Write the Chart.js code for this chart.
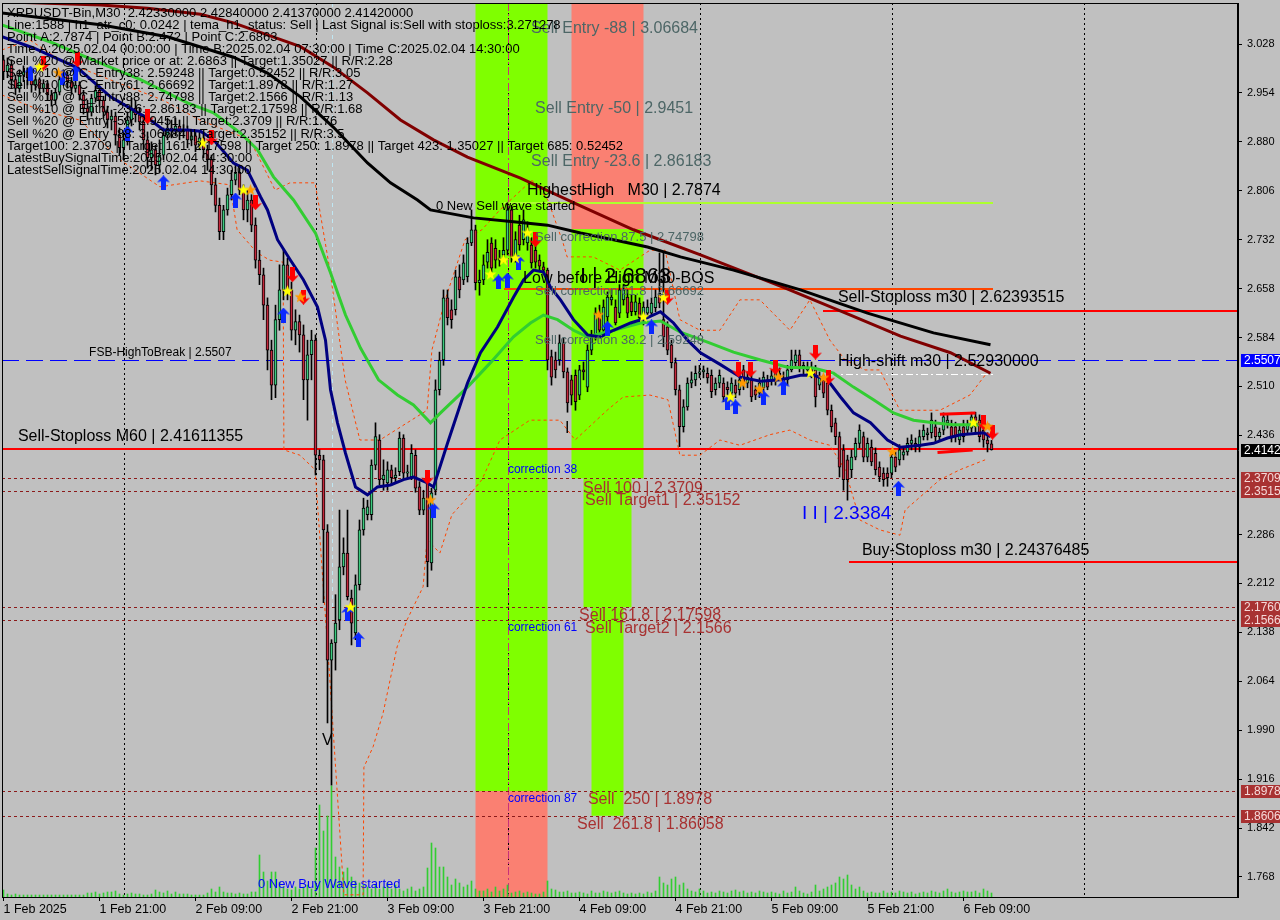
<!DOCTYPE html>
<html>
<head>
<meta charset="utf-8">
<title>XRPUSDT-Bin,M30</title>
<script src="https://cdn.jsdelivr.net/npm/chart.js@4.4.1/dist/chart.umd.min.js"></script>
<style>
  html, body { margin: 0; padding: 0; background: #c0c0c0; }
  #chart { display: block; }
</style>
</head>
<body>
<canvas id="chart" width="1280" height="920"></canvas>
<script>
// --- axis labels ---
const timeTickBars = [0, 24, 48, 72, 96, 120, 144, 168, 192, 216, 240];
const timeLabels = ['1 Feb 2025', '1 Feb 21:00', '2 Feb 09:00', '2 Feb 21:00', '3 Feb 09:00', '3 Feb 21:00',
  '4 Feb 09:00', '4 Feb 21:00', '5 Feb 09:00', '5 Feb 21:00', '6 Feb 09:00'];
const priceTicks = [3.028, 2.954, 2.880, 2.806, 2.732, 2.658, 2.584, 2.510, 2.436, 2.286, 2.212, 2.138, 2.064, 1.990, 1.916, 1.842, 1.768];
const dayStartBars = [30, 78, 126, 174, 222, 270];

// --- candles, M30, bar 0 = 1 Feb 09:00 ---
const opens = [
  3.004,2.986,2.996,2.974,2.961,2.981,2.986,2.977,2.966,2.974, 2.961,2.968,2.951,2.943,2.955,2.974,2.981,2.971,2.961,2.966,
  2.951,2.931,2.925,2.946,2.958,2.943,2.925,2.913,2.919,2.890, 2.871,2.883,2.913,2.931,2.921,2.910,2.883,2.856,2.868,2.845,
  2.860,2.890,2.901,2.898,2.904,2.895,2.898,2.883,2.889,2.875, 2.886,2.868,2.853,2.815,2.784,2.744,2.777,2.800,2.822,2.834,
  2.807,2.777,2.792,2.754,2.701,2.679,2.633,2.565,2.512,2.611, 2.656,2.694,2.656,2.595,2.608,2.588,2.520,2.558,2.580,2.406,
  2.399,2.290,2.096,2.122,2.157,2.237,2.258,2.190,2.137,2.210, 2.293,2.316,2.316,2.391,2.429,2.369,2.364,2.384,2.372,2.381,
  2.432,2.379,2.373,2.406,2.358,2.323,2.369,2.243,2.353,2.505, 2.550,2.644,2.626,2.626,2.676,2.671,2.676,2.727,2.747,2.667,
  2.671,2.698,2.727,2.719,2.701,2.709,2.716,2.777,2.706,2.754, 2.732,2.727,2.724,2.716,2.701,2.691,2.686,2.555,2.550,2.550,
  2.576,2.532,2.520,2.527,2.497,2.535,2.509,2.565,2.585,2.621, 2.595,2.615,2.641,2.630,2.621,2.641,2.645,2.638,2.623,2.636,
  2.611,2.621,2.621,2.629,2.651,2.611,2.600,2.573,2.546,2.505, 2.449,2.479,2.515,2.520,2.530,2.532,2.530,2.527,2.505,2.515,
  2.515,2.509,2.500,2.512,2.505,2.535,2.515,2.520,2.505,2.500, 2.508,2.520,2.520,2.520,2.530,2.523,2.520,2.535,2.546,2.558,
  2.539,2.535,2.539,2.535,2.512,2.520,2.515,2.474,2.455,2.434, 2.414,2.399,2.384,2.403,2.424,2.434,2.403,2.418,2.409,2.388,
  2.379,2.379,2.379,2.403,2.399,2.406,2.411,2.424,2.424,2.418, 2.434,2.437,2.440,2.449,2.434,2.444,2.455,2.449,2.449,2.429,
  2.449,2.444,2.447,2.464,2.459,2.444,2.429,2.4233
];
const highs = [
  3.011,3.007,3.004,2.981,2.989,2.995,2.992,2.983,2.980,2.977, 2.974,2.971,2.958,2.961,2.983,2.989,2.986,2.977,2.974,2.971,
  2.958,2.943,2.952,2.965,2.965,2.949,2.934,2.928,2.925,2.901, 2.895,2.925,2.946,2.943,2.931,2.921,2.895,2.880,2.875,2.883,
  2.901,2.916,2.913,2.916,2.913,2.906,2.904,2.898,2.898,2.895, 2.892,2.875,2.860,2.825,2.795,2.784,2.810,2.837,2.845,2.845,
  2.815,2.807,2.800,2.765,2.716,2.689,2.644,2.580,2.633,2.694, 2.716,2.704,2.668,2.626,2.618,2.603,2.580,2.595,2.588,2.414,
  2.406,2.301,2.127,2.195,2.323,2.281,2.323,2.202,2.225,2.308, 2.341,2.338,2.399,2.455,2.437,2.399,2.396,2.391,2.387,2.441,
  2.437,2.391,2.422,2.414,2.366,2.353,2.376,2.356,2.520,2.562, 2.656,2.656,2.641,2.686,2.694,2.709,2.735,2.777,2.754,2.686,
  2.709,2.732,2.735,2.732,2.716,2.735,2.788,2.784,2.744,2.769, 2.777,2.759,2.735,2.732,2.709,2.698,2.689,2.565,2.562,2.588,
  2.583,2.538,2.527,2.535,2.542,2.547,2.573,2.595,2.629,2.633, 2.641,2.653,2.656,2.641,2.664,2.664,2.656,2.648,2.648,2.644,
  2.638,2.641,2.644,2.656,2.712,2.712,2.608,2.580,2.553,2.512, 2.490,2.523,2.532,2.541,2.542,2.541,2.538,2.535,2.523,2.535,
  2.523,2.517,2.523,2.520,2.532,2.542,2.532,2.527,2.511,2.523, 2.532,2.527,2.535,2.547,2.538,2.532,2.542,2.565,2.565,2.565,
  2.547,2.547,2.547,2.542,2.532,2.527,2.523,2.482,2.462,2.441, 2.422,2.406,2.414,2.432,2.452,2.441,2.432,2.429,2.417,2.396,
  2.387,2.387,2.411,2.411,2.422,2.417,2.432,2.437,2.432,2.444, 2.452,2.447,2.470,2.459,2.447,2.470,2.467,2.459,2.456,2.452,
  2.459,2.459,2.471,2.471,2.467,2.456,2.440,2.4284
];
const lows = [
  2.974,2.977,2.961,2.951,2.955,2.971,2.966,2.955,2.958,2.951, 2.955,2.943,2.934,2.937,2.951,2.965,2.961,2.952,2.955,2.943,
  2.922,2.913,2.919,2.940,2.934,2.916,2.901,2.898,2.875,2.860, 2.853,2.875,2.904,2.910,2.898,2.868,2.840,2.837,2.830,2.834,
  2.853,2.883,2.886,2.889,2.883,2.886,2.871,2.874,2.865,2.868, 2.856,2.837,2.800,2.774,2.732,2.732,2.769,2.792,2.815,2.800,
  2.762,2.759,2.744,2.689,2.664,2.611,2.535,2.490,2.493,2.595, 2.641,2.641,2.580,2.573,2.562,2.490,2.459,2.520,2.376,2.384,
  2.183,2.001,1.907,2.081,2.142,2.225,2.187,2.119,2.127,2.202, 2.285,2.308,2.308,2.384,2.361,2.353,2.353,2.361,2.366,2.375,
  2.369,2.372,2.369,2.350,2.316,2.316,2.207,2.232,2.346,2.497, 2.542,2.603,2.598,2.618,2.644,2.664,2.668,2.723,2.656,2.648,
  2.664,2.689,2.683,2.689,2.692,2.698,2.709,2.698,2.698,2.716, 2.724,2.716,2.689,2.689,2.686,2.680,2.535,2.512,2.523,2.542,
  2.523,2.471,2.482,2.474,2.490,2.520,2.502,2.558,2.580,2.588, 2.588,2.608,2.633,2.603,2.614,2.633,2.614,2.617,2.618,2.608,
  2.603,2.618,2.617,2.623,2.629,2.570,2.558,2.538,2.497,2.419, 2.441,2.474,2.508,2.511,2.523,2.523,2.515,2.493,2.497,2.508,
  2.487,2.497,2.493,2.493,2.497,2.505,2.508,2.487,2.490,2.493, 2.502,2.505,2.512,2.512,2.520,2.508,2.512,2.532,2.541,2.532,
  2.527,2.529,2.523,2.479,2.505,2.493,2.467,2.441,2.422,2.373, 2.353,2.338,2.372,2.399,2.417,2.396,2.396,2.390,2.376,2.366,
  2.359,2.359,2.372,2.381,2.391,2.399,2.406,2.414,2.411,2.411, 2.429,2.429,2.432,2.426,2.429,2.437,2.447,2.426,2.426,2.422,
  2.426,2.437,2.441,2.441,2.426,2.418,2.411,2.4137
];
const closes = [
  2.986,2.996,2.974,2.961,2.981,2.986,2.977,2.966,2.974,2.961, 2.968,2.951,2.943,2.955,2.974,2.981,2.971,2.961,2.966,2.951,
  2.931,2.925,2.946,2.958,2.943,2.925,2.913,2.919,2.890,2.871, 2.883,2.913,2.931,2.921,2.910,2.883,2.856,2.868,2.845,2.860,
  2.890,2.901,2.898,2.904,2.895,2.898,2.883,2.889,2.875,2.886, 2.868,2.853,2.815,2.784,2.744,2.777,2.800,2.822,2.834,2.807,
  2.777,2.792,2.754,2.701,2.679,2.633,2.565,2.512,2.611,2.656, 2.694,2.656,2.595,2.608,2.588,2.520,2.558,2.580,2.406,2.399,
  2.293,2.096,2.122,2.152,2.237,2.258,2.192,2.152,2.210,2.293, 2.326,2.328,2.391,2.434,2.369,2.376,2.384,2.372,2.376,2.432,
  2.379,2.381,2.409,2.356,2.323,2.341,2.245,2.349,2.505,2.550, 2.644,2.614,2.611,2.676,2.656,2.697,2.727,2.747,2.667,2.671,
  2.694,2.713,2.689,2.701,2.704,2.716,2.777,2.706,2.732,2.724, 2.762,2.747,2.697,2.698,2.692,2.686,2.550,2.524,2.535,2.576,
  2.532,2.485,2.497,2.487,2.535,2.532,2.565,2.585,2.621,2.595, 2.630,2.645,2.645,2.606,2.656,2.656,2.621,2.623,2.638,2.614,
  2.630,2.630,2.636,2.645,2.636,2.585,2.565,2.546,2.505,2.449, 2.479,2.515,2.520,2.530,2.532,2.535,2.523,2.502,2.515,2.527,
  2.494,2.505,2.515,2.500,2.520,2.512,2.524,2.494,2.497,2.515, 2.524,2.509,2.526,2.539,2.527,2.515,2.535,2.550,2.558,2.539,
  2.542,2.539,2.530,2.494,2.524,2.500,2.474,2.449,2.434,2.388, 2.369,2.369,2.403,2.424,2.444,2.403,2.424,2.396,2.384,2.373,
  2.369,2.372,2.403,2.388,2.414,2.411,2.424,2.429,2.418,2.434, 2.444,2.440,2.459,2.434,2.441,2.464,2.459,2.434,2.434,2.444,
  2.434,2.452,2.464,2.449,2.434,2.429,2.423,2.4142
];
const volumes = [
  7,3,2,3,2,2,2,2,2,2, 2,2,2,2,2,2,2,2,2,2, 2,4,4,5,3,4,5,5,6,3, 2,3,4,3,3,2,2,3,7,5,
  4,6,3,5,3,3,3,2,2,2, 2,4,8,5,10,5,4,4,3,4, 3,3,5,5,42,25,16,25,25,15, 10,8,7,10,8,10,12,8,49,92,
  66,81,111,40,30,25,29,20,16,14, 12,10,8,12,8,10,14,8,12,8, 6,8,10,6,8,10,29,54,49,30, 30,20,12,18,14,10,12,16,8,6,
  6,8,5,10,6,8,12,4,5,6, 4,5,4,3,3,5,16,8,7,5, 5,6,4,4,5,4,3,6,4,4, 6,5,4,5,6,4,3,4,3,4,
  3,5,4,6,20,14,12,18,20,12, 14,8,6,5,8,6,4,5,4,6, 5,4,6,7,5,6,4,5,4,6, 5,4,5,4,3,6,4,5,10,6,
  4,3,5,12,6,8,10,12,14,20, 18,22,12,8,10,6,4,5,4,4, 6,4,5,4,6,5,4,5,3,4, 5,4,6,5,4,6,8,5,4,5,
  6,5,5,6,4,8,6,4
];

// --- indicator lines, [bar, price] ---
const maNavy = [[-0.4,3.039],[7.5,3.022],[18.5,2.992],[26.75,2.948],[32.5,2.928],[36.75,2.913],[40,2.898],[46,2.898],[49.25,2.896],
  [52.5,2.883],[57.5,2.848],[61,2.837],[64.25,2.797],[66,2.777],[68.5,2.732],[71.75,2.701],[75,2.671],[78.5,2.630],[80.5,2.580],
  [81.75,2.505],[83.5,2.455],[85.5,2.409],[88,2.358],[91,2.346],[93.5,2.358],[96.75,2.361],[100,2.369],[102.5,2.373],[106,2.364],
  [107.5,2.358],[111,2.424],[116,2.515],[119.25,2.561],[123.5,2.600],[127.5,2.645],[130,2.671],[132.5,2.686],[135,2.683],
  [136.75,2.660],[139.25,2.641],[142.5,2.611],[146,2.588],[149.25,2.585],[152.5,2.595],[156.75,2.606],[161,2.614],[164.25,2.623],
  [167.5,2.606],[171,2.580],[174.25,2.561],[179.25,2.543],[184.25,2.524],[189.25,2.518],[194.25,2.520],[199.25,2.527],[202.5,2.527],
  [206,2.520],[209.25,2.494],[212.5,2.470],[216.75,2.455],[221,2.429],[224.25,2.418],[229.25,2.421],[232.5,2.424],[236,2.432],
  [239.25,2.437],[245,2.440],[246.75,2.434]];
const maGreen = [[-0.4,3.057],[11.75,3.031],[24.25,2.999],[34.25,2.974],[46,2.939],[52.5,2.924],[59.25,2.893],[63.5,2.868],
  [67.5,2.827],[72.5,2.792],[78,2.742],[81.75,2.682],[85.5,2.618],[89.25,2.568],[93.75,2.520],[98.5,2.497],[102.5,2.482],
  [106.75,2.455],[109.25,2.470],[116,2.509],[121.75,2.546],[127.5,2.585],[131.75,2.606],[135,2.618],[138.5,2.611],[142.5,2.595],
  [146,2.585],[152.5,2.595],[159.25,2.606],[164.25,2.609],[169.25,2.592],[176,2.577],[182.5,2.562],[189.25,2.550],[196,2.539],
  [202.5,2.538],[207.5,2.530],[212.5,2.509],[217.5,2.490],[222.5,2.470],[227.5,2.459],[232.5,2.455],[237.5,2.452],[245,2.452],
  [246.75,2.450]];
const maBlack = [[-0.4,3.075],[24.25,3.057],[41,3.039],[57.5,3.008],[66,2.984],[74.25,2.948],[82.5,2.902],[91,2.848],[96.75,2.818],
  [103.5,2.792],[106.75,2.777],[117.5,2.765],[127.5,2.759],[136,2.754],[144.25,2.742],[152.5,2.732],[161,2.721],[169.25,2.706],
  [182.5,2.686],[199.25,2.656],[216,2.621],[232.5,2.591],[246.75,2.573]];
const maMaroon = [[-0.4,3.092],[24.25,3.087],[36,3.082],[49.25,3.073],[57.5,3.060],[74.25,3.024],[82.5,2.993],[91,2.954],
  [99.25,2.913],[107.5,2.883],[116,2.857],[129.25,2.825],[144.25,2.783],[157.5,2.747],[174.25,2.709],[195,2.660],[211.75,2.618],
  [224.25,2.586],[236.75,2.561],[246.75,2.530]];
const bandUpper = [[-0.4,3.019],[6.6,3.034],[14.1,3.004],[26.6,2.974],[39.9,2.943],[49.1,2.913],[61.6,2.883],[67.9,2.807],
  [71.6,2.818],[77.9,2.818],[81.6,2.686],[85.4,2.520],[89.1,2.429],[94.1,2.429],[105.9,2.474],[107.1,2.565],[110.4,2.641],
  [115.4,2.732],[119.6,2.747],[124.1,2.777],[132.1,2.822],[136.1,2.792],[139.9,2.727],[140.9,2.706],[147.4,2.706],[154.1,2.686],
  [161.6,2.716],[165.4,2.716],[169.1,2.611],[174.1,2.595],[179.1,2.595],[184.1,2.641],[189.1,2.641],[196.6,2.595],[201.6,2.641],
  [206.6,2.580],[210.4,2.550],[215.4,2.535],[219.1,2.535],[224.1,2.474],[234.1,2.474],[241.6,2.497],[245.4,2.527]];
const bandLower = [[-0.4,2.951],[9.1,2.928],[19.1,2.913],[29.1,2.853],[39.1,2.812],[49.1,2.821],[56.6,2.815],[58.4,2.747],
  [63.4,2.712],[66.6,2.701],[69.9,2.698],[70.1,2.414],[74.1,2.406],[77.9,2.384],[81.6,2.066],[85.1,1.741],[89.9,1.741],
  [90.1,1.934],[92.4,1.965],[94.9,2.016],[98.4,2.116],[100.9,2.157],[104.9,2.207],[105.9,2.278],[109.1,2.258],[112.1,2.316],
  [115.4,2.338],[119.6,2.369],[124.1,2.429],[131.6,2.459],[139.1,2.459],[142.9,2.429],[150.9,2.474],[154.9,2.494],[161.6,2.497],
  [166.1,2.490],[169.1,2.406],[174.1,2.406],[179.1,2.429],[184.1,2.421],[191.6,2.437],[196.6,2.444],[201.6,2.429],[206.6,2.421],
  [210.4,2.384],[214.1,2.308],[219.1,2.293],[224.1,2.285],[225.4,2.323],[234.1,2.369],[239.1,2.384],[245.4,2.399]];

// --- signal marks, [bar, price] ---
const buyArrows = [[6.75,2.984],[14.75,2.978],[18,2.984],[31,2.893],[40,2.818],[58,2.792],[70,2.618],[86,2.167],[88.75,2.127],
  [107.5,2.323],[123.75,2.668],[126,2.671],[128.75,2.698],[151,2.598],[162,2.600],[181,2.485],[183,2.479],[190,2.493],[195,2.509],
  [223.75,2.356]];
const sellArrows = [[10,2.999],[18.5,3.004],[36,2.918],[52,2.886],[63,2.788],[72.25,2.679],[75,2.645],[106,2.373],[133,2.732],
  [166,2.645],[183.75,2.535],[186.75,2.535],[193,2.539],[203,2.562],[206.25,2.524],[245,2.455],[247.25,2.441]];
const yellowStars = [[9,2.993],[49.75,2.878],[60,2.807],[71,2.654],[86.75,2.176],[121.75,2.679],[125,2.701],[128,2.704],
  [131,2.742],[160,2.615],[165,2.644],[181.75,2.494],[201.75,2.530],[242.5,2.455]];
const orangeStars = [[13.75,2.984],[61.75,2.807],[74.25,2.645],[106.75,2.338],[148.75,2.618],[184.75,2.515],[189,2.506],
  [193.75,2.524],[205,2.523],[222.25,2.411],[246,2.449]];

// --- levels ---
const sellStopM60 = 2.41611355;
const fsbHighToBreak = 2.5507;
const sellStopM30 = 2.62393515;
const buyStopM30 = 2.24376485;
const highestHigh = 2.7874;
const bosLevel = 2.6575;
const highShift = 2.5293;
const targetLevels = [2.3709, 2.35152, 2.17598, 2.1566, 1.8978, 1.86058];
const lastClose = 2.4142;
const rangeHigh = [[234.1, 2.468], [243, 2.470]];
const rangeLow = [[233.5, 2.410], [242.3, 2.414]];

const X_MIN = -0.375, X_MAX = 308.625;
const Y_MIN = 1.73773, Y_MAX = 3.09002;
const FONT = '"Liberation Sans", Arial, sans-serif';
const LIME = '#7FFF00', SALMON = '#FA8072', SLATE = '#4D6666', BROWN = '#A83232';

const zones = [
  { from: 118, to: 136, top: 3.2, bottom: 1.8978, color: LIME },
  { from: 118, to: 136, top: 1.8978, bottom: 1.6, color: SALMON },
  { from: 142, to: 160, top: 3.2, bottom: 2.74798, color: SALMON },
  { from: 142, to: 160, top: 2.74798, bottom: 2.3709, color: LIME },
  { from: 145, to: 157, top: 2.3709, bottom: 2.17598, color: LIME },
  { from: 147, to: 155, top: 2.17598, bottom: 1.86058, color: LIME }
];

// horizontal levels: price, from bar, to bar, colour, width, dash
const levels = [
  ...targetLevels.map(p => [p, X_MIN, X_MAX, '#8B1A1A', 1, [3, 3]]),
  [fsbHighToBreak, X_MIN, X_MAX, '#0000FF', 1, [17, 7]],
  [highShift, 206.75, 247.25, '#FFFFFF', 1, [7, 3, 2, 3]],
  [sellStopM60, X_MIN, X_MAX, '#FF0000', 2, []],
  [sellStopM30, 205, X_MAX, '#FF0000', 2, []],
  [buyStopM30, 211.25, X_MAX, '#FF0000', 2, []],
  [highestHigh, 125, 247.25, '#ADFF2F', 2, []],
  [bosLevel, 125, 247.25, '#FF4500', 2, []]
];

const notes = [
  ['Sell-Stoploss M60 | 2.41611355', 3.6, 2.434, 16, '#000'],
  ['FSB-HighToBreak | 2.5507', 21.4, 2.561, 12, '#000'],
  ['Sell Entry -88 | 3.06684', 131.9, 3.052, 16, SLATE],
  ['Sell Entry -50 | 2.9451', 132.9, 2.931, 16, SLATE],
  ['Sell Entry -23.6 | 2.86183', 131.9, 2.850, 16, SLATE],
  ['HighestHigh   M30 | 2.7874', 130.9, 2.806, 16, '#000'],
  ['0 New Sell wave started', 108.1, 2.783, 13, '#000'],
  ['Sell correction 87.5 | 2.74798', 132.9, 2.736, 13, SLATE],
  ['Sell correction 61.8 | 2.66692', 132.9, 2.653, 13, SLATE],
  ['Sell correction 38.2 | 2.59248', 132.9, 2.580, 13, SLATE],
  ['Low before High M30-BOS', 129.9, 2.673, 16, '#000'],
  ['I | 2.6863', 144.1, 2.676, 22, '#000'],
  ['Sell-Stoploss m30 | 2.62393515', 208.6, 2.644, 16, '#000'],
  ['High-shift m30 | 2.52930000', 208.6, 2.547, 16, '#000'],
  ['correction 38', 126.1, 2.384, 12, '#0000FF'],
  ['Sell 100 | 2.3709', 144.9, 2.356, 16, BROWN],
  ['Sell Target1 | 2.35152', 145.4, 2.337, 16, BROWN],
  ['I I | 2.3384', 199.6, 2.317, 19, '#0000FF'],
  ['Buy-Stoploss m30 | 2.24376485', 214.6, 2.261, 16, '#000'],
  ['Sell 161.8 | 2.17598', 143.9, 2.163, 16, BROWN],
  ['correction 61', 126.1, 2.145, 12, '#0000FF'],
  ['Sell Target2 | 2.1566', 145.4, 2.143, 16, BROWN],
  ['correction 87', 126.1, 1.886, 12, '#0000FF'],
  ['Sell  250 | 1.8978', 146.1, 1.885, 16, BROWN],
  ['Sell  261.8 | 1.86058', 143.4, 1.847, 16, BROWN],
  ['0 New Buy Wave started', 63.6, 1.756, 13, '#0000FF'],
  ['V', 79.6, 1.975, 16, '#000'],
  ['I', 140.4, 2.447, 16, '#000']
];

const infoLines = [
  'XRPUSDT-Bin,M30  2.42330000 2.42840000 2.41370000 2.41420000',
  'Line:1588 | h1_atr_c0: 0.0242 | tema_h1_status: Sell | Last Signal is:Sell with stoploss:3.271278',
  'Point A:2.7874 | Point B:2.472 | Point C:2.6863',
  'Time A:2025.02.04 00:00:00 | Time B:2025.02.04 07:30:00 | Time C:2025.02.04 14:30:00',
  'Sell %20 @ Market price or at: 2.6863 || Target:1.35027 || R/R:2.28',
  'Sell %10 @ C_Entry38: 2.59248 || Target:0.52452 || R/R:3.05',
  'Sell %10 @ C_Entry61: 2.66692 || Target:1.8978 || R/R:1.27',
  'Sell %10 @ C_Entry88: 2.74798 || Target:2.1566 || R/R:1.13',
  'Sell %10 @ Entry -23.6: 2.86183 || Target:2.17598 || R/R:1.68',
  'Sell %20 @ Entry -50: 2.9451 || Target:2.3709 || R/R:1.76',
  'Sell %20 @ Entry -88: 3.06684 || Target:2.35152 || R/R:3.5',
  'Target100: 2.3709 || Target 161: 2.17598 || Target 250: 1.8978 || Target 423: 1.35027 || Target 685: 0.52452',
  'LatestBuySignalTime:2025.02.04 04:30:00',
  'LatestSellSignalTime:2025.02.04 14:30:00'
];

const axisTags = [
  [fsbHighToBreak, '#0000FF', '#FFFFFF'],
  [lastClose, '#000000', '#FFFFFF'],
  ...targetLevels.map(p => [p, BROWN, '#F6D8D8'])
];

// --- marker images ---
function makeArrow(color, up) {
  const c = document.createElement('canvas');
  c.width = 13; c.height = 15;
  const g = c.getContext('2d');
  if (!up) { g.translate(0, 15); g.scale(1, -1); }
  g.fillStyle = color;
  g.beginPath();
  g.moveTo(6.5, 0); g.lineTo(13, 7); g.lineTo(9, 6); g.lineTo(9, 15); g.lineTo(4, 15); g.lineTo(4, 6); g.lineTo(0, 7);
  g.closePath();
  g.fill();
  return c;
}
function makeStar(color) {
  const c = document.createElement('canvas');
  c.width = 13; c.height = 13;
  const g = c.getContext('2d');
  g.fillStyle = color;
  g.beginPath();
  for (let k = 0; k < 10; k++) {
    const r = k % 2 ? 2.6 : 6.3;
    const a = -Math.PI / 2 + k * Math.PI / 5;
    g.lineTo(6.5 + r * Math.cos(a), 6.5 + r * Math.sin(a));
  }
  g.closePath();
  g.fill();
  return c;
}

const pts = arr => arr.map(([x, y]) => ({ x, y }));

function lineSet(data, color, width, order, dash) {
  return {
    type: 'line', data, borderColor: color, borderWidth: width, borderDash: dash || [],
    pointRadius: 0, tension: 0, fill: false, order
  };
}
function markSet(data, img) {
  return {
    type: 'line', data: pts(data), showLine: false, pointStyle: img, pointRadius: 6, order: 1
  };
}

const bars = opens.map((o, i) => i);
const datasets = [
  {
    type: 'bar', yAxisID: 'yv', data: bars.map(i => ({ x: i, y: volumes[i] })),
    backgroundColor: '#32CD32', barThickness: 1, grouped: false, order: 30
  },
  lineSet(pts(bandUpper), '#FF4500', 1, 18, [3, 3]),
  lineSet(pts(bandLower), '#FF4500', 1, 18, [3, 3]),
  {
    type: 'bar', data: bars.map(i => ({ x: i, y: [lows[i], highs[i]] })),
    backgroundColor: '#000000', barThickness: 1, grouped: false, order: 12
  },
  {
    type: 'bar', data: bars.map(i => ({ x: i, y: [opens[i], closes[i]] })),
    backgroundColor: bars.map(i => closes[i] >= opens[i] ? '#3CCB7F' : '#C4283C'),
    borderColor: '#000000', borderWidth: 1, borderSkipped: false, minBarLength: 1,
    barThickness: 3, grouped: false, order: 11
  },
  lineSet(pts(maMaroon), '#800000', 3, 6),
  lineSet(pts(maBlack), '#000000', 3, 5),
  lineSet(pts(maGreen), '#32CD32', 3, 4),
  lineSet(pts(maNavy), '#000080', 3, 3),
  lineSet(pts(rangeHigh), '#FF0000', 3, 2),
  lineSet(pts(rangeLow), '#FF0000', 3, 2),
  markSet(yellowStars, makeStar('#FFFF00')),
  markSet(orangeStars, makeStar('#FF9A00')),
  markSet(buyArrows, makeArrow('#0A28FF', true)),
  markSet(sellArrows, makeArrow('#FF0000', false))
];

// --- drawing helpers ---
const backdrop = {
  id: 'backdrop',
  beforeDraw(chart) {
    const g = chart.ctx;
    g.save();
    g.fillStyle = '#C0C0C0';
    g.fillRect(0, 0, chart.width, chart.height);
    g.restore();
  },
  beforeDatasetsDraw(chart) {
    const g = chart.ctx, a = chart.chartArea, x = chart.scales.x, y = chart.scales.y;
    g.save();
    g.beginPath(); g.rect(a.left, a.top, a.right - a.left, a.bottom - a.top); g.clip();
    zones.forEach(z => {
      const x0 = x.getPixelForValue(z.from), x1 = x.getPixelForValue(z.to);
      const y0 = y.getPixelForValue(z.top), y1 = y.getPixelForValue(z.bottom);
      g.fillStyle = z.color;
      g.fillRect(x0, y0, x1 - x0, y1 - y0);
    });
    g.strokeStyle = '#000'; g.lineWidth = 1; g.setLineDash([2, 3]);
    dayStartBars.forEach(b => {
      const px = Math.round(x.getPixelForValue(b)) + 0.5;
      g.beginPath(); g.moveTo(px, a.top); g.lineTo(px, a.bottom); g.stroke();
    });
    g.strokeStyle = '#C8307A'; g.setLineDash([8, 3, 2, 3]);
    let px = Math.round(x.getPixelForValue(126)) + 0.5;
    g.beginPath(); g.moveTo(px, a.top); g.lineTo(px, a.bottom); g.stroke();
    g.strokeStyle = '#BFE6F2'; g.setLineDash([4, 4]);
    px = Math.round(x.getPixelForValue(82)) + 0.5;
    g.beginPath(); g.moveTo(px, a.top); g.lineTo(px, y.getPixelForValue(2.172)); g.stroke();
    levels.forEach(([p, b0, b1, color, width, dash]) => {
      const py = Math.round(y.getPixelForValue(p)) + (width % 2 ? 0.5 : 0);
      g.strokeStyle = color; g.lineWidth = width; g.setLineDash(dash);
      g.beginPath();
      g.moveTo(Math.round(x.getPixelForValue(b0)), py);
      g.lineTo(Math.round(x.getPixelForValue(b1)), py);
      g.stroke();
    });
    g.restore();
  },
  afterDatasetsDraw(chart) {
    const g = chart.ctx, a = chart.chartArea, x = chart.scales.x, y = chart.scales.y;
    g.save();
    g.beginPath(); g.rect(a.left, a.top, a.right - a.left, a.bottom - a.top); g.clip();
    g.textBaseline = 'middle'; g.textAlign = 'left';
    notes.forEach(([t, b, p, size, color]) => {
      g.font = size + 'px ' + FONT;
      g.fillStyle = color;
      g.fillText(t, x.getPixelForValue(b), y.getPixelForValue(p));
    });
    g.font = '13px ' + FONT;
    g.fillStyle = '#000';
    infoLines.forEach((t, k) => g.fillText(t, 7, 13 + k * 12.1));
    g.restore();
  },
  afterDraw(chart) {
    const g = chart.ctx, a = chart.chartArea, y = chart.scales.y;
    g.save();
    g.strokeStyle = '#000'; g.lineWidth = 1;
    g.strokeRect(a.left + 0.5, a.top + 0.5, a.right - a.left - 1, a.bottom - a.top);
    g.font = '12px ' + FONT; g.textBaseline = 'middle'; g.textAlign = 'left';
    axisTags.forEach(([p, bg, fg]) => {
      const py = Math.round(y.getPixelForValue(p));
      g.fillStyle = bg;
      g.fillRect(a.right + 3, py - 6, chart.width - a.right - 3, 13);
      g.fillStyle = fg;
      g.fillText(p.toFixed(4), a.right + 6, py + 0.5);
    });
    g.restore();
  }
};

new Chart(document.getElementById('chart'), {
  type: 'bar',
  data: { datasets },
  options: {
    responsive: false,
    maintainAspectRatio: false,
    animation: false,
    events: [],
    layout: { autoPadding: false, padding: { left: 2, top: 3, right: 0, bottom: 0 } },
    plugins: { legend: { display: false }, tooltip: { enabled: false } },
    scales: {
      x: {
        type: 'linear', min: X_MIN, max: X_MAX, offset: false,
        afterBuildTicks: s => { s.ticks = timeTickBars.map(value => ({ value })); },
        afterFit: s => { s.height = 23; s.paddingLeft = 0; s.paddingRight = 0; },
        ticks: {
          autoSkip: false, maxRotation: 0, align: 'start', padding: 1, color: '#000',
          font: { family: FONT, size: 12.5 },
          callback: v => timeLabels[timeTickBars.indexOf(v)]
        },
        grid: { drawOnChartArea: false, tickLength: 4, color: '#000', offset: false },
        border: { display: true, color: '#000' }
      },
      y: {
        type: 'linear', position: 'right', min: Y_MIN, max: Y_MAX,
        afterBuildTicks: s => { s.ticks = priceTicks.map(value => ({ value })); },
        afterFit: s => { s.width = 42; s.paddingTop = 0; s.paddingBottom = 0; },
        ticks: {
          autoSkip: false, padding: 5, color: '#000',
          font: { family: FONT, size: 11 },
          callback: v => v.toFixed(3)
        },
        grid: { drawOnChartArea: false, tickLength: 4, color: '#000' },
        border: { display: true, color: '#000' }
      },
      yv: { type: 'linear', display: false, min: 0, max: 894 }
    }
  },
  plugins: [backdrop]
});
</script>
</body>
</html>
